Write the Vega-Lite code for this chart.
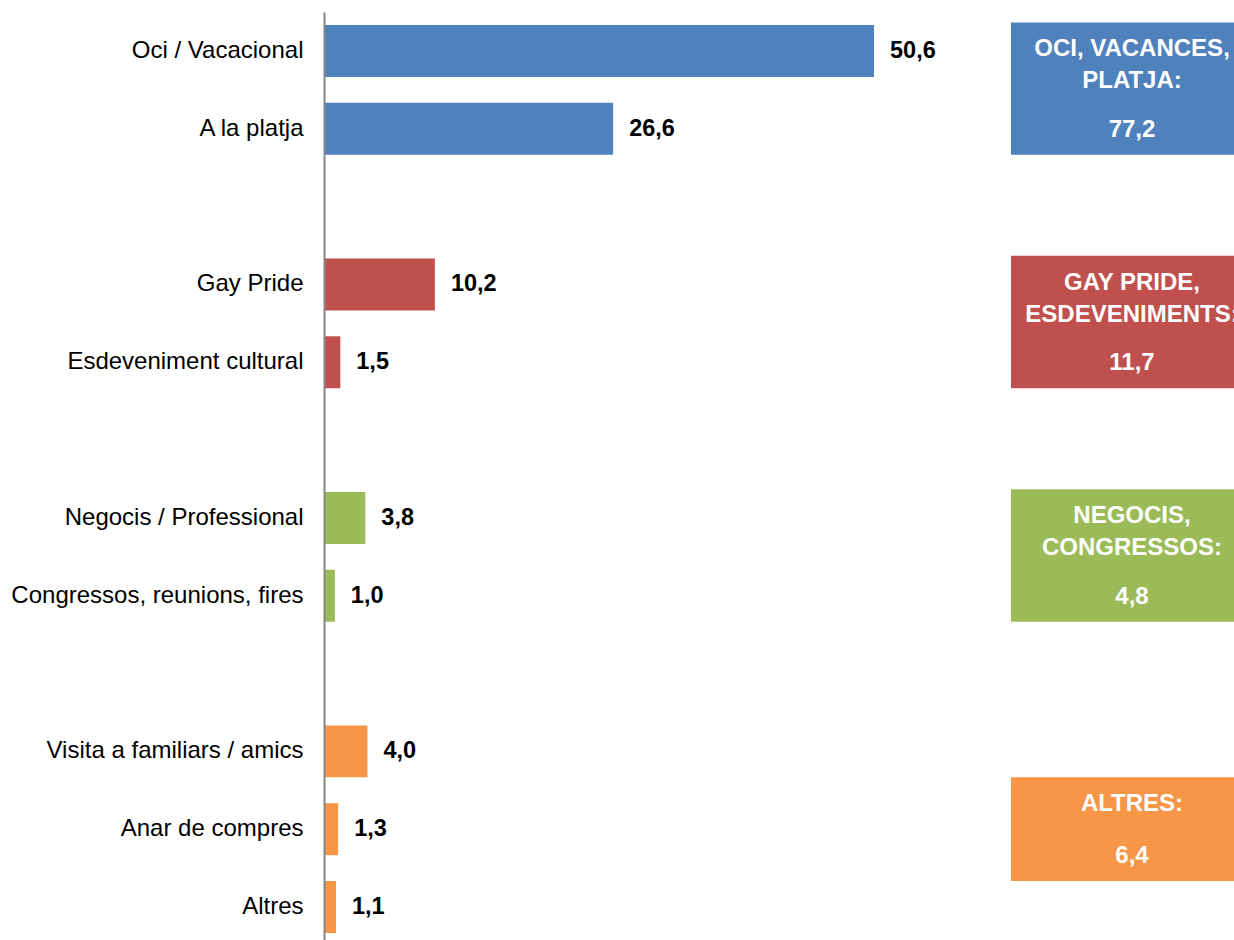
{
  "$schema": "https://vega.github.io/schema/vega-lite/v6.json",
  "padding": {"left": 10, "top": 12, "right": 0, "bottom": 0},
  "spacing": 0,
  "config": {
    "view": {"stroke": null},
    "font": "Liberation Sans",
    "locale": {"number": {"decimal": ",", "thousands": ".", "grouping": [3], "currency": ["", " €"]}}
  },
  "datasets": {
    "rows": [
      {"cat": "Oci / Vacacional", "value": 50.6, "group": "oci"},
      {"cat": "A la platja", "value": 26.6, "group": "oci"},
      {"cat": "Gay Pride", "value": 10.2, "group": "gay"},
      {"cat": "Esdeveniment cultural", "value": 1.5, "group": "gay"},
      {"cat": "Negocis / Professional", "value": 3.8, "group": "neg"},
      {"cat": "Congressos, reunions, fires", "value": 1.0, "group": "neg"},
      {"cat": "Visita a familiars / amics", "value": 4.0, "group": "alt"},
      {"cat": "Anar de compres", "value": 1.3, "group": "alt"},
      {"cat": "Altres", "value": 1.1, "group": "alt"}
    ],
    "groups": [
      {"group": "oci", "title": ["OCI, VACANCES,", "PLATJA:"], "total": 77.2, "from": "Oci / Vacacional", "to": "A la platja", "kind": "pair"},
      {"group": "gay", "title": ["GAY PRIDE,", "ESDEVENIMENTS:"], "total": 11.7, "from": "Gay Pride", "to": "Esdeveniment cultural", "kind": "pair"},
      {"group": "neg", "title": ["NEGOCIS,", "CONGRESSOS:"], "total": 4.8, "from": "Negocis / Professional", "to": "Congressos, reunions, fires", "kind": "pair"},
      {"group": "alt", "title": ["ALTRES:"], "total": 6.4, "from": "Visita a familiars / amics", "to": "Altres", "kind": "triple"}
    ]
  },
  "hconcat": [
    {
      "width": 687,
      "height": 934,
      "data": {"name": "rows"},
      "encoding": {
        "y": {
          "field": "cat",
          "type": "nominal",
          "sort": null,
          "scale": {
            "domain": ["Oci / Vacacional", "A la platja", " ", "Gay Pride", "Esdeveniment cultural", "  ", "Negocis / Professional", "Congressos, reunions, fires", "   ", "Visita a familiars / amics", "Anar de compres", "Altres"],
            "paddingInner": 0.332,
            "paddingOuter": 0.167
          },
          "axis": {
            "title": null,
            "domainColor": "#868686",
            "domainWidth": 2,
            "ticks": false,
            "tickSize": 0,
            "grid": false,
            "labelPadding": 21,
            "labelFontSize": 24,
            "labelColor": "#000000",
            "labelLimit": 400,
            "minExtent": 311,
            "maxExtent": 311,
            "zindex": 1
          }
        },
        "x": {
          "field": "value",
          "type": "quantitative",
          "scale": {"domain": [0, 63.2], "nice": false},
          "axis": null
        }
      },
      "layer": [
        {
          "mark": {"type": "bar"},
          "encoding": {
            "color": {
              "field": "group",
              "type": "nominal",
              "scale": {"domain": ["oci", "gay", "neg", "alt"], "range": ["#4F81BD", "#C0504D", "#9BBB59", "#F79646"]},
              "legend": null
            }
          }
        },
        {
          "mark": {"type": "text", "align": "left", "baseline": "middle", "dx": 16, "fontSize": 23.5, "fontWeight": "bold", "color": "#000000"},
          "encoding": {
            "text": {"field": "value", "type": "quantitative", "format": ".1f"}
          }
        }
      ]
    },
    {
      "width": 242,
      "height": 934,
      "data": {"name": "groups"},
      "layer": [
        {
          "transform": [{"filter": "datum.kind === 'pair'"}],
          "mark": {"type": "rect"},
          "encoding": {
            "y": {"field": "from", "type": "nominal", "bandPosition": -0.05, "scale": {"domain": ["Oci / Vacacional", "A la platja", " ", "Gay Pride", "Esdeveniment cultural", "  ", "Negocis / Professional", "Congressos, reunions, fires", "   ", "Visita a familiars / amics", "Anar de compres", "Altres"], "paddingInner": 0.332, "paddingOuter": 0.167}, "axis": null},
            "y2": {"field": "to", "bandPosition": 1},
            "color": {"field": "group", "type": "nominal", "scale": {"domain": ["oci", "gay", "neg", "alt"], "range": ["#4F81BD", "#C0504D", "#9BBB59", "#F79646"]}, "legend": null}
          }
        },
        {
          "transform": [{"filter": "datum.kind === 'triple'"}],
          "mark": {"type": "rect"},
          "encoding": {
            "y": {"field": "from", "type": "nominal", "bandPosition": 1, "scale": {"domain": ["Oci / Vacacional", "A la platja", " ", "Gay Pride", "Esdeveniment cultural", "  ", "Negocis / Professional", "Congressos, reunions, fires", "   ", "Visita a familiars / amics", "Anar de compres", "Altres"], "paddingInner": 0.332, "paddingOuter": 0.167}, "axis": null},
            "y2": {"field": "to", "bandPosition": 0},
            "color": {"field": "group", "type": "nominal", "scale": {"domain": ["oci", "gay", "neg", "alt"], "range": ["#4F81BD", "#C0504D", "#9BBB59", "#F79646"]}, "legend": null}
          }
        },
        {
          "transform": [{"filter": "datum.kind === 'pair'"}],
          "mark": {"type": "text", "align": "center", "baseline": "top", "dy": 15, "lineHeight": 32, "fontSize": 24, "fontWeight": "bold", "color": "#ffffff"},
          "encoding": {
            "y": {"field": "from", "type": "nominal", "bandPosition": -0.05, "axis": null},
            "text": {"field": "title"}
          }
        },
        {
          "transform": [{"filter": "datum.kind === 'triple'"}],
          "mark": {"type": "text", "align": "center", "baseline": "top", "dy": 15, "lineHeight": 32, "fontSize": 24, "fontWeight": "bold", "color": "#ffffff"},
          "encoding": {
            "y": {"field": "from", "type": "nominal", "bandPosition": 1, "axis": null},
            "text": {"field": "title"}
          }
        },
        {
          "transform": [{"filter": "datum.kind === 'pair'"}],
          "mark": {"type": "text", "align": "center", "baseline": "middle", "dy": -25, "fontSize": 24, "fontWeight": "bold", "color": "#ffffff"},
          "encoding": {
            "y": {"field": "to", "type": "nominal", "bandPosition": 1, "axis": null},
            "text": {"field": "total", "type": "quantitative", "format": ".1f"}
          }
        },
        {
          "transform": [{"filter": "datum.kind === 'triple'"}],
          "mark": {"type": "text", "align": "center", "baseline": "middle", "dy": -25, "fontSize": 24, "fontWeight": "bold", "color": "#ffffff"},
          "encoding": {
            "y": {"field": "to", "type": "nominal", "bandPosition": 0, "axis": null},
            "text": {"field": "total", "type": "quantitative", "format": ".1f"}
          }
        }
      ]
    }
  ]
}
